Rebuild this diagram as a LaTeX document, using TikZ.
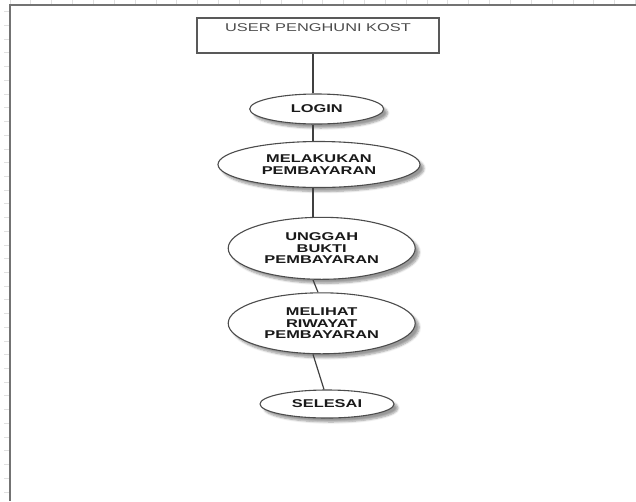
\documentclass[tikz,border=0pt]{standalone}
\usepackage{fontspec}
\setmainfont{Liberation Sans}[FakeStretch=1.45]
\usetikzlibrary{shapes.geometric,shadows.blur}

\begin{document}
\begin{tikzpicture}
  [x=1pt, y=-1pt,
   every node/.style={inner sep=0pt, text=black!90},
   proses/.style={ellipse, draw=black!70, line width=1.1pt, fill=white, align=center,
     font=\fontsize{11.3}{11.7}\selectfont\bfseries,
     blur shadow={shadow xshift=4pt, shadow yshift=-4pt, shadow opacity=40, shadow blur steps=6}},
   aktor/.style={draw=black!65, line width=1.2pt, minimum width=242pt,
     text height=13.7pt, text depth=21.3pt, font=\fontsize{11.3}{12}\selectfont, text=black!70},
   garis/.style={draw=black!75, line width=1.2pt},
   tepi/.style={draw=black!55, line width=1.8pt},
   tanda/.style={draw=black!12, line width=0.8pt}]
  \useasboundingbox (0,0) rectangle (636,501);
  \foreach \i in {0,...,30} \draw[tanda] (10+20.85*\i,0) -- +(0,4);
  \foreach \i in {0,...,36} \draw[tanda] (4,11.7+13.72*\i) -- +(6,0);
  \draw[tepi] (636,5) -- (10,5) -- (10,501);

  \node[aktor] (user) at (318,35.5) {USER PENGHUNI KOST};
  \node[proses, minimum width=134pt, minimum height=30pt] (login) at (316.7,109) {LOGIN};
  \node[proses, minimum width=202pt, minimum height=46pt] (bayar) at (319,164.5) {MELAKUKAN\\PEMBAYARAN};
  \node[proses, minimum width=187pt, minimum height=62pt] (unggah) at (321.7,248.3) {UNGGAH\\BUKTI\\PEMBAYARAN};
  \node[proses, minimum width=187pt, minimum height=61pt] (riwayat) at (321.7,323.3) {MELIHAT\\RIWAYAT\\PEMBAYARAN};
  \node[proses, minimum width=134pt, minimum height=28pt] (selesai) at (327,404) {SELESAI};

  \draw[garis] ([xshift=-5pt]user.south) -- ([xshift=-3.7pt]login.north);
  \draw[garis] ([xshift=-3.7pt]login.south) -- ([xshift=-6pt]bayar.north);
  \draw[garis] ([xshift=-6pt]bayar.south) -- ([xshift=-8.7pt]unggah.north);
  \draw[garis] ([xshift=-8.7pt]unggah.south) -- ([xshift=-3.7pt]riwayat.north);
  \draw[garis] ([xshift=-8.7pt]riwayat.south) -- ([xshift=-3pt]selesai.north);
\end{tikzpicture}
\end{document}
